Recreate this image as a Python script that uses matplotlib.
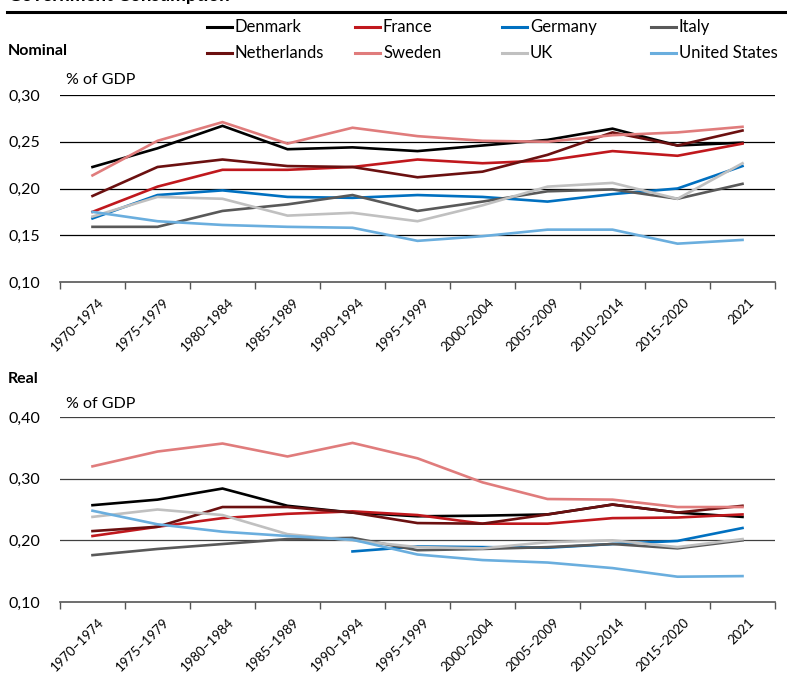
import numpy as np
import matplotlib
matplotlib.use("Agg")
import matplotlib.pyplot as plt
from matplotlib.lines import Line2D
from matplotlib.ticker import FuncFormatter

plt.rcParams['font.family'] = ['Lato', 'DejaVu Sans']

periods = ["1970–1974", "1975–1979", "1980–1984", "1985–1989", "1990–1994", "1995–1999",
           "2000–2004", "2005–2009", "2010–2014", "2015–2020", "2021"]
countries = ["Denmark", "France", "Germany", "Italy", "Netherlands", "Sweden", "UK", "United States"]
colors = {"Denmark": "#000000", "France": "#C0181D", "Germany": "#0070C0", "Italy": "#595959",
          "Netherlands": "#6B1010", "Sweden": "#E07C7C", "UK": "#C0C0C0", "United States": "#6AAEDE"}

nan = np.nan
# Nominal (% of GDP)
nom_denmark = [0.223, 0.243, 0.267, 0.242, 0.244, 0.240, 0.246, 0.252, 0.264, 0.246, 0.249]
nom_france = [0.175, 0.202, 0.220, 0.220, 0.223, 0.231, 0.227, 0.230, 0.240, 0.235, 0.248]
nom_germany = [0.168, 0.193, 0.198, 0.191, 0.190, 0.193, 0.191, 0.186, 0.194, 0.200, 0.224]
nom_italy = [0.159, 0.159, 0.176, 0.183, 0.193, 0.176, 0.186, 0.197, 0.199, 0.189, 0.205]
nom_netherlands = [0.192, 0.223, 0.231, 0.224, 0.223, 0.212, 0.218, 0.236, 0.260, 0.246, 0.262]
nom_sweden = [0.214, 0.251, 0.271, 0.248, 0.265, 0.256, 0.251, 0.250, 0.257, 0.260, 0.266]
nom_uk = [0.170, 0.191, 0.189, 0.171, 0.174, 0.165, 0.182, 0.202, 0.206, 0.189, 0.227]
nom_us = [0.175, 0.165, 0.161, 0.159, 0.158, 0.144, 0.149, 0.156, 0.156, 0.141, 0.145]

# Real (% of GDP)
real_denmark = [0.257, 0.266, 0.284, 0.256, 0.245, 0.239, 0.240, 0.242, 0.258, 0.245, 0.238]
real_france = [0.207, 0.222, 0.236, 0.243, 0.247, 0.241, 0.227, 0.227, 0.236, 0.237, 0.242]
real_germany = [nan, nan, nan, nan, 0.182, 0.190, 0.189, 0.188, 0.194, 0.199, 0.220]
real_italy = [0.176, 0.186, 0.194, 0.202, 0.204, 0.184, 0.186, 0.189, 0.194, 0.187, 0.200]
real_netherlands = [0.215, 0.222, 0.254, 0.254, 0.245, 0.228, 0.227, 0.242, 0.258, 0.245, 0.256]
real_sweden = [0.320, 0.344, 0.357, 0.336, 0.358, 0.333, 0.294, 0.267, 0.266, 0.254, 0.254]
real_uk = [0.238, 0.250, 0.241, 0.210, 0.200, 0.189, 0.187, 0.197, 0.200, 0.189, 0.202]
real_us = [0.248, 0.226, 0.214, 0.207, 0.201, 0.177, 0.168, 0.164, 0.155, 0.141, 0.142]

nominal = {"Denmark": nom_denmark, "France": nom_france, "Germany": nom_germany, "Italy": nom_italy,
           "Netherlands": nom_netherlands, "Sweden": nom_sweden, "UK": nom_uk, "United States": nom_us}
real = {"Denmark": real_denmark, "France": real_france, "Germany": real_germany, "Italy": real_italy,
        "Netherlands": real_netherlands, "Sweden": real_sweden, "UK": real_uk, "United States": real_us}

fig = plt.figure(figsize=(7.87, 6.73), dpi=100)
W, H = 787, 673

def fx(px):
    return px / W

def fy(py):
    return 1 - py / H

fmt = FuncFormatter(lambda v, p: f"{v:.2f}".replace(".", ","))

def make_axes(top_px, bottom_px, data, ylim, yticks, gridcolor):
    ax = fig.add_axes([fx(60), fy(bottom_px), fx(775) - fx(60), fy(top_px) - fy(bottom_px)])
    x = np.arange(len(periods))
    for c in countries:
        ax.plot(x, data[c], color=colors[c], lw=1.9, solid_joinstyle='miter', zorder=3)
    ax.set_xlim(-0.5, len(periods) - 0.5)
    ax.set_ylim(*ylim)
    ax.set_yticks(yticks)
    ax.yaxis.set_major_formatter(fmt)
    for t in yticks[1:]:
        ax.axhline(t, color=gridcolor, lw=0.9, zorder=1)
    for s in ["left", "right", "top"]:
        ax.spines[s].set_visible(False)
    ax.spines["bottom"].set_color("#555555")
    ax.spines["bottom"].set_linewidth(1.2)
    ax.tick_params(axis="y", length=0, labelsize=11.5, pad=37)
    for lab in ax.get_yticklabels():
        lab.set_horizontalalignment("left")
    ax.set_xticks(x + 0.08)
    ax.set_xticklabels(periods, rotation=45, ha="right", rotation_mode="anchor", fontsize=9.5)
    ax.tick_params(axis="x", length=0, pad=10)
    ax.set_xticks(np.arange(-0.5, len(periods)), minor=True)
    ax.tick_params(axis="x", which="minor", length=5, color="#555555", width=1)
    return ax

ax1 = make_axes(95, 282, nominal, (0.10, 0.30), [0.10, 0.15, 0.20, 0.25, 0.30], "#000000")
ax2 = make_axes(417, 602, real, (0.10, 0.40), [0.10, 0.20, 0.30, 0.40], "#404040")

# Title (partly cut off at the top) and rule
fig.text(fx(8), fy(1), "Government Consumption", fontsize=13.5, fontweight="bold", va="baseline", ha="left")
fig.add_artist(Line2D([fx(7), fx(787)], [fy(12), fy(12)], color="#000000", lw=2.2))

fig.text(fx(8), fy(51), "Nominal", fontsize=11.5, fontweight="bold", va="center", ha="left")
fig.text(fx(66), fy(80), "% of GDP", fontsize=11.5, va="center", ha="left")
fig.text(fx(8), fy(379), "Real", fontsize=11.5, fontweight="bold", va="center", ha="left")
fig.text(fx(66), fy(404), "% of GDP", fontsize=11.5, va="center", ha="left")

# Legend (manual, 4 columns x 2 rows)
col_x = [207, 355, 502, 651]
row_y = [27, 53]
for i, c in enumerate(countries):
    r, k = divmod(i, 4)
    x0 = col_x[k]
    y0 = row_y[r]
    fig.add_artist(Line2D([fx(x0), fx(x0 + 25)], [fy(y0), fy(y0)], color=colors[c], lw=2.2))
    fig.text(fx(x0 + 28), fy(y0), c, fontsize=12, va="center", ha="left")

fig.savefig("out.png", dpi=100)
